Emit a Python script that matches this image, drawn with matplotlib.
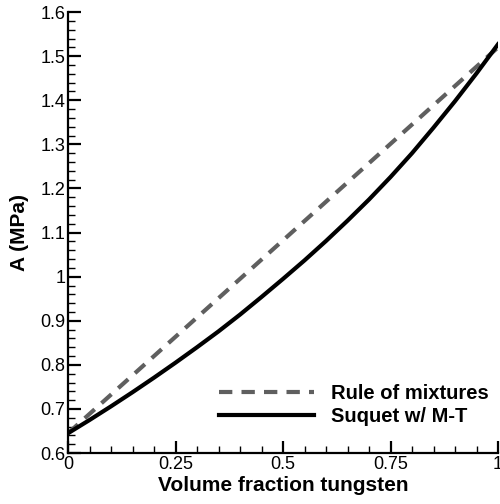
import matplotlib
matplotlib.use("Agg")
import matplotlib.pyplot as plt
import numpy as np

plt.rcParams['font.family'] = ['Liberation Sans', 'DejaVu Sans']

# volume fraction of tungsten
vf = [0.0, 0.05, 0.1, 0.15, 0.2, 0.25, 0.3, 0.35, 0.4, 0.45, 0.5,
      0.55, 0.6, 0.65, 0.7, 0.75, 0.8, 0.85, 0.9, 0.95, 1.0]
# Suquet w/ M-T estimate (MPa)
suquet = [0.645, 0.675, 0.706, 0.738, 0.771, 0.805, 0.840, 0.876, 0.914, 0.954, 0.995,
          1.037, 1.081, 1.127, 1.175, 1.226, 1.280, 1.338, 1.398, 1.461, 1.527]
# rule of mixtures end points
rom_x = [0.0, 1.0]
rom_y = [0.645, 1.52]

fig = plt.figure(figsize=(5.0, 5.04), dpi=100)
ax = fig.add_axes([0.136, 0.101, 0.86, 0.875])

ax.plot(rom_x, rom_y, color='#5f5f5f', lw=3, linestyle=(0, (3.2, 2.2)),
        label='Rule of mixtures')
ax.plot(vf, suquet, color='black', lw=3, label='Suquet w/ M-T')

ax.set_xlim(0, 1)
ax.set_ylim(0.6, 1.6)
ax.set_xticks([0, 0.25, 0.5, 0.75, 1])
ax.set_xticklabels(['0', '0.25', '0.5', '0.75', '1'])
ax.set_xticks(np.arange(0, 1.001, 0.05), minor=True)
ax.set_yticks(np.arange(0.6, 1.601, 0.1))
ax.set_yticklabels(['0.6', '0.7', '0.8', '0.9', '1', '1.1', '1.2', '1.3', '1.4', '1.5', '1.6'])
ax.set_yticks(np.arange(0.6, 1.601, 0.02), minor=True)

for s in ['top', 'right']:
    ax.spines[s].set_visible(False)
for s in ['left', 'bottom']:
    ax.spines[s].set_linewidth(1.6)

ax.tick_params(which='major', direction='in', length=9, width=1.6, labelsize=13, pad=2)
ax.tick_params(which='minor', direction='in', length=5, width=1.0)

ax.set_xlabel('Volume fraction tungsten', fontsize=15, fontweight='bold', labelpad=2)
ax.set_ylabel('A (MPa)', fontsize=15, fontweight='bold', labelpad=8)

leg = ax.legend(loc='lower right', bbox_to_anchor=(1.02, 0.02), frameon=False,
                handlelength=4.7, handletextpad=0.85, labelspacing=0.22,
                prop={'size': 14.5, 'weight': 'bold'})

fig.savefig('out.png', dpi=100)
